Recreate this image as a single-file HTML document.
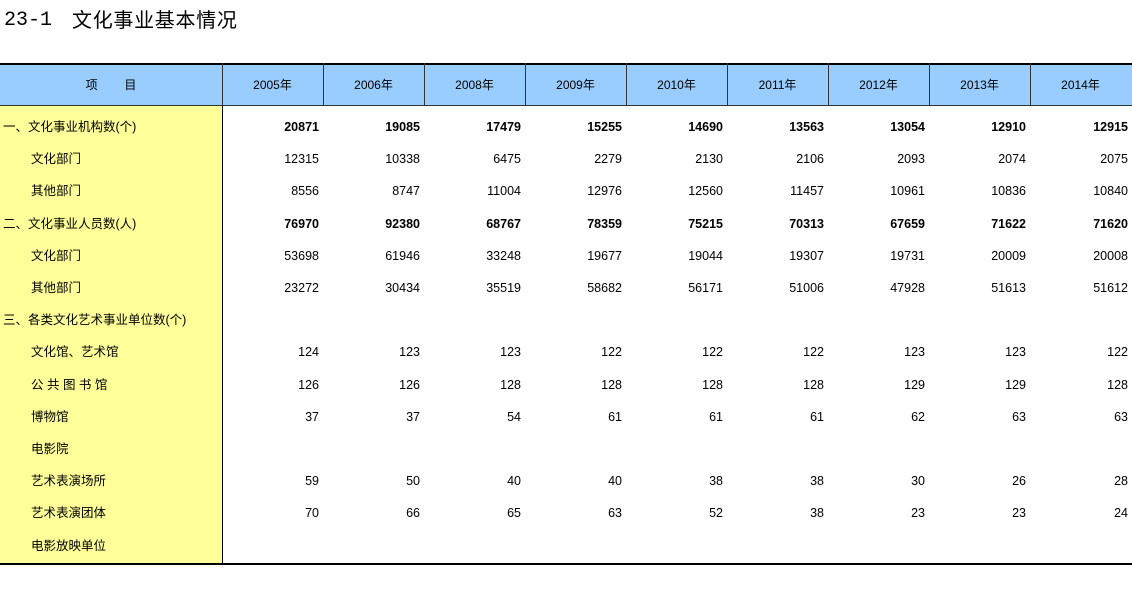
<!DOCTYPE html>
<html><head><meta charset="utf-8"><style>
body{margin:0;width:1132px;height:598px;background:#fff;position:relative;font-family:"Liberation Sans","Noto Sans CJK SC",sans-serif;overflow:hidden}
.t1{position:absolute;left:4px;top:9px;font-size:20px;color:#000;font-family:"Liberation Mono",monospace}
.t2{position:absolute;left:72px;top:4px;font-size:20px;letter-spacing:0.7px;color:#000}
.hdr{position:absolute;left:0;top:63px;width:1132px;height:42px;background:#99ccff;border-top:2px solid #000;box-sizing:border-box}
.yel{position:absolute;left:0;top:105px;width:222px;height:460px;background:#ffff99;border-right:1px solid #000}
.v{position:absolute;top:63px;width:1px;height:42px;background:#333}
.hl{position:absolute;top:105px;left:0;width:1132px;height:1px;background:#333}
.h{position:absolute;top:65px;height:40px;line-height:40px;text-align:center;font-size:12px;width:101px}
.c{position:absolute;font-size:12.5px;height:20px;line-height:20px;white-space:nowrap}
.n{text-align:right;width:95px}
.b{font-weight:bold}
.bot{position:absolute;left:0;top:563px;width:1132px;height:2px;background:#000}
</style></head><body>
<div class="t1">23-1</div>
<div class="t2">文化事业基本情况</div>
<div class="hdr"></div>
<div class="yel"></div>
<div class="hl"></div>
<div class="bot"></div>
<div id="g"></div>
<script>
var cols=[222,323,424,525,626,727,828,929,1030,1132];
var yrs=["2005年","2006年","2008年","2009年","2010年","2011年","2012年","2013年","2014年"];
var h='<div class="h" style="left:0;width:222px">项&nbsp;&nbsp;&nbsp;&nbsp;&nbsp;&nbsp;&nbsp;&nbsp;目</div>';
for(var i=0;i<9;i++){h+='<div class="v" style="left:'+cols[i]+'px"></div><div class="h" style="left:'+cols[i]+'px">'+yrs[i]+'</div>';}
var rows=[
["一、文化事业机构数(个)",1,[20871,19085,17479,15255,14690,13563,13054,12910,12915]],
["文化部门",0,[12315,10338,6475,2279,2130,2106,2093,2074,2075]],
["其他部门",0,[8556,8747,11004,12976,12560,11457,10961,10836,10840]],
["二、文化事业人员数(人)",1,[76970,92380,68767,78359,75215,70313,67659,71622,71620]],
["文化部门",0,[53698,61946,33248,19677,19044,19307,19731,20009,20008]],
["其他部门",0,[23272,30434,35519,58682,56171,51006,47928,51613,51612]],
["三、各类文化艺术事业单位数(个)",2,[]],
["文化馆、艺术馆",0,[124,123,123,122,122,122,123,123,122]],
["公 共 图 书 馆",0,[126,126,128,128,128,128,129,129,128]],
["博物馆",0,[37,37,54,61,61,61,62,63,63]],
["电影院",0,[]],
["艺术表演场所",0,[59,50,40,40,38,38,30,26,28]],
["艺术表演团体",0,[70,66,65,63,52,38,23,23,24]],
["电影放映单位",0,[]]];
for(var r=0;r<rows.length;r++){
 var y=117+r*32.2, R=rows[r];
 h+='<div class="c" style="left:'+(R[1]?3:31)+'px;top:'+y+'px">'+R[0]+'</div>';
 for(var i=0;i<R[2].length;i++){
  h+='<div class="c n'+(R[1]==1?' b':'')+'" style="left:'+(cols[i+1]-4-95)+'px;top:'+y+'px">'+R[2][i]+'</div>';
 }
}
document.getElementById('g').innerHTML=h;
</script>
</body></html>
